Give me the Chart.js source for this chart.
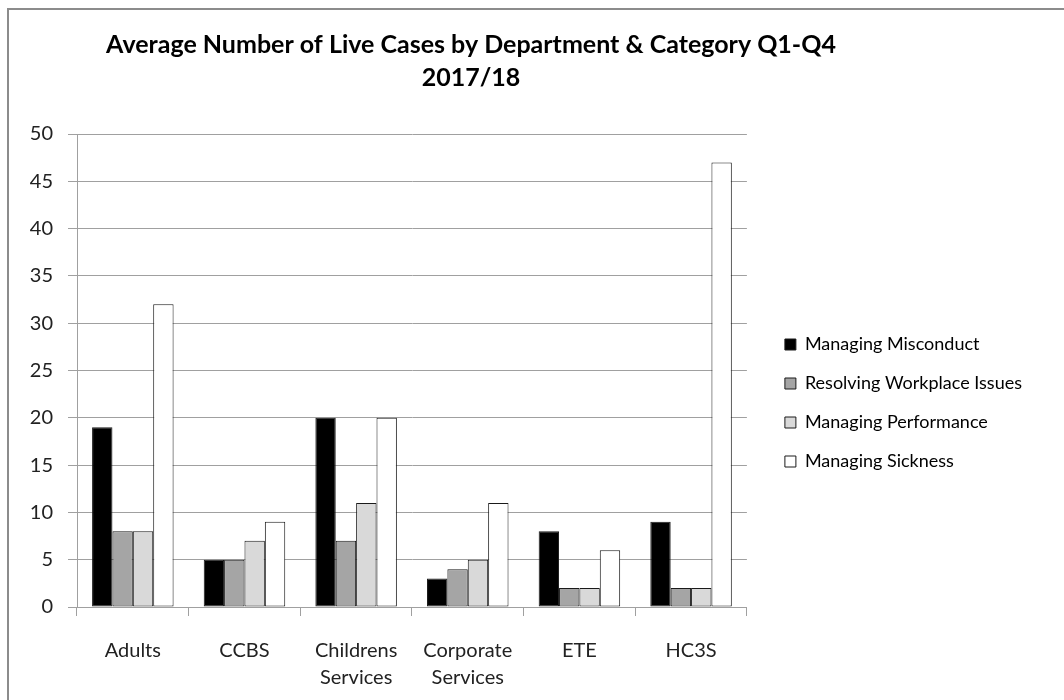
<!DOCTYPE html>
<html>
<head>
<meta charset="utf-8">
<script src="https://cdn.jsdelivr.net/npm/chart.js@4.4.1/dist/chart.umd.min.js"></script>
<style>
  body { margin: 0; background: #fff; overflow: hidden; }
  #frame { position: absolute; left: 7px; top: 8px; width: 1200px; height: 800px;
           border-left: 2px solid #8c8c8c; border-top: 2px solid #8c8c8c; }
  #wrap { position: absolute; left: -73px; top: 0; width: 1128px; height: 700px; }
</style>
</head>
<body>
<div id="frame"></div>
<div id="wrap"><canvas id="chart" width="1128" height="700"></canvas></div>
<script>
// departments on the x axis
const departments = ["Adults", "CCBS", ["Childrens", "Services"], ["Corporate", "Services"], "ETE", "HC3S"];

// average live cases per category
const misconduct  = [19, 5, 20, 3, 8, 9];
const workplace   = [8, 5, 7, 4, 2, 2];
const performance = [8, 7, 11, 5, 2, 2];
const sickness    = [32, 9, 20, 11, 6, 47];

const yTicks = { min: 0, max: 50, step: 5 };

const fontFam = "Lato, 'Liberation Sans', sans-serif";

function series(label, data, color) {
  return {
    label: label,
    data: data,
    backgroundColor: color,
    borderColor: "#1a1a1a",
    borderWidth: 1,
    borderSkipped: false,
    categoryPercentage: 0.73,
    barPercentage: 1.0
  };
}

// nudge the legend away from the plot, like the excel layout
const legendNudge = {
  id: "legendNudge",
  afterLayout(chart, args, opts) {
    const lg = chart.legend;
    if (!lg) return;
    lg.left += opts.dx; lg.right += opts.dx;
    lg.top += opts.dy; lg.bottom += opts.dy;
  }
};

new Chart(document.getElementById("chart"), {
  type: "bar",
  data: {
    labels: departments,
    datasets: [
      series("Managing Misconduct", misconduct, "#000000"),
      series("Resolving Workplace Issues", workplace, "#a5a5a5"),
      series("Managing Performance", performance, "#d9d9d9"),
      series("Managing Sickness", sickness, "#ffffff")
    ]
  },
  plugins: [legendNudge],
  options: {
    responsive: false,
    animation: false,
    layout: { padding: { left: 0, right: 40, top: 0, bottom: 0 } },
    plugins: {
      title: {
        display: true,
        text: ["Average Number of Live Cases by Department & Category Q1-Q4", "2017/18"],
        color: "#000",
        font: { family: fontFam, size: 25, weight: "bold", lineHeight: 1.32 },
        padding: { top: 28, bottom: 40 }
      },
      legend: {
        position: "right",
        labels: {
          color: "#000",
          font: { family: fontFam, size: 18 },
          boxWidth: 11,
          boxHeight: 11,
          padding: 21
        }
      },
      legendNudge: { dx: 17, dy: 53 },
      tooltip: { enabled: false }
    },
    scales: {
      x: {
        grid: { display: true, drawOnChartArea: false, drawTicks: true, tickLength: 9, color: "#a0a0a0", offset: true },
        border: { color: "#a0a0a0" },
        ticks: { color: "#222", font: { family: fontFam, size: 20, lineHeight: 1.35 }, padding: 21, maxRotation: 0, autoSkip: false },
        afterFit: function (scale) { scale.height = 93; }
      },
      y: {
        min: yTicks.min,
        max: yTicks.max,
        grid: { color: "#a0a0a0", tickLength: 9 },
        border: { color: "#a0a0a0" },
        ticks: { stepSize: yTicks.step, color: "#222", font: { family: fontFam, size: 20 }, padding: 15 },
        afterFit: function (scale) { scale.width = 150; }
      }
    }
  }
});
</script>
</body>
</html>
